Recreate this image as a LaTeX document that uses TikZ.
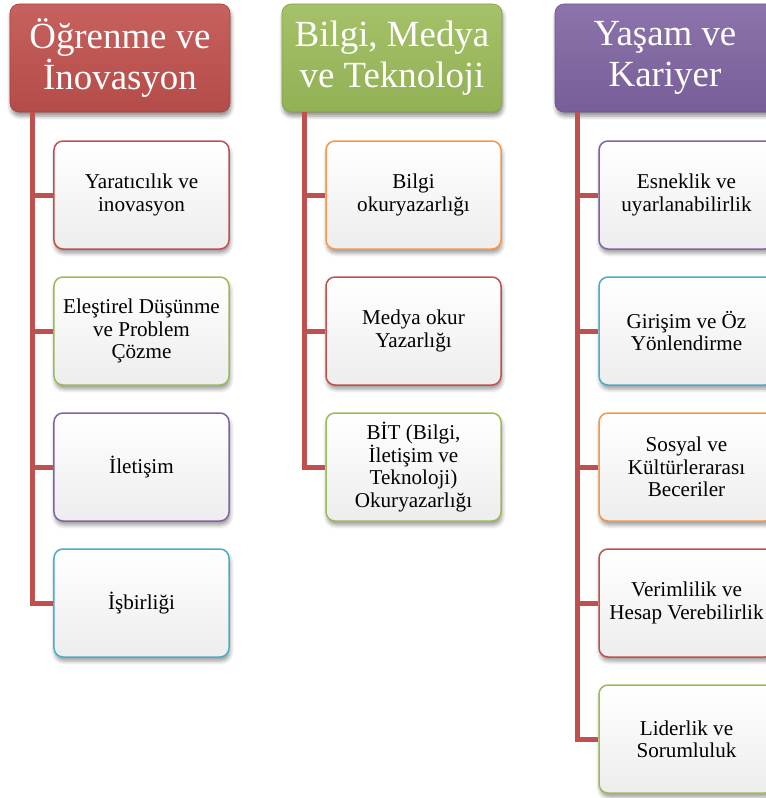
\documentclass[tikz,border=0pt]{standalone}
\usepackage{fontspec}
\setmainfont{Liberation Serif}
\usetikzlibrary{shadows.blur}

\definecolor{accRed}{HTML}{C0504D}
\definecolor{accGreen}{HTML}{9BBB59}
\definecolor{accPurple}{HTML}{8064A2}
\definecolor{accAqua}{HTML}{4BACC6}
\definecolor{accOrange}{HTML}{F79646}

\tikzset{
  hdr/.style={rounded corners=9bp, minimum width=220bp, minimum height=108bp,
    inner sep=0pt, align=center, text=white,
    font=\fontsize{37}{41}\selectfont,
    top color=#1!90!white, bottom color=#1!94!black, draw=#1!85!black, line width=0.6bp,
    blur shadow={shadow xshift=1bp, shadow yshift=-4bp, shadow blur radius=4bp, shadow opacity=45}},
  item/.style={rounded corners=9bp, minimum width=175bp, minimum height=108bp,
    inner sep=0pt, align=center, text=black,
    font=\fontsize{21.2}{22.5}\selectfont,
    top color=white, bottom color=black!7, draw=#1, line width=1.5bp,
    blur shadow={shadow xshift=1bp, shadow yshift=-4bp, shadow blur radius=4bp, shadow opacity=40}},
  bar/.style={draw=accRed, line width=5bp, line join=miter}
}

\begin{document}
\begin{tikzpicture}[x=1bp,y=-1bp]
\useasboundingbox (0,0) rectangle (766,798);

% column headers
\node[hdr=accRed]    (h1) at (120,58) {Öğrenme ve\\İnovasyon};
\node[hdr=accGreen]  (h2) at (392,58) {Bilgi, Medya\\ve Teknoloji};
\node[hdr=accPurple] (h3) at (665,58) {Yaşam ve\\Kariyer};

% first column
\node[item=accRed]    (a1) at (141.5,195) {Yaratıcılık ve\\inovasyon};
\node[item=accGreen]  (a2) at (141.5,331) {Eleştirel Düşünme\\ve Problem\\Çözme};
\node[item=accPurple] (a3) at (141.5,467) {İletişim};
\node[item=accAqua]   (a4) at (141.5,603) {İşbirliği};

% second column
\node[item=accOrange] (b1) at (413.5,195) {Bilgi\\okuryazarlığı};
\node[item=accRed]    (b2) at (413.5,331) {Medya okur\\Yazarlığı};
\node[item=accGreen]  (b3) at (413.5,467) {BİT (Bilgi,\\İletişim ve\\Teknoloji)\\Okuryazarlığı};

% third column
\node[item=accPurple] (c1) at (686.5,195) {Esneklik ve\\uyarlanabilirlik};
\node[item=accAqua]   (c2) at (686.5,331) {Girişim ve Öz\\Yönlendirme};
\node[item=accOrange] (c3) at (686.5,467) {Sosyal ve\\Kültürlerarası\\Beceriler};
\node[item=accRed]    (c4) at (686.5,603) {Verimlilik ve\\Hesap Verebilirlik};
\node[item=accGreen]  (c5) at (686.5,739) {Liderlik ve\\Sorumluluk};

% tree connectors
\coordinate (ta) at ([xshift=23bp]h1.south west);
\coordinate (tb) at ([xshift=23bp]h2.south west);
\coordinate (tc) at ([xshift=23bp]h3.south west);

\foreach \n in {a1,a2,a3,a4} \draw[bar] (ta) |- (\n.west);
\foreach \n in {b1,b2,b3} \draw[bar] (tb) |- (\n.west);
\foreach \n in {c1,c2,c3,c4,c5} \draw[bar] (tc) |- (\n.west);
\end{tikzpicture}
\end{document}
